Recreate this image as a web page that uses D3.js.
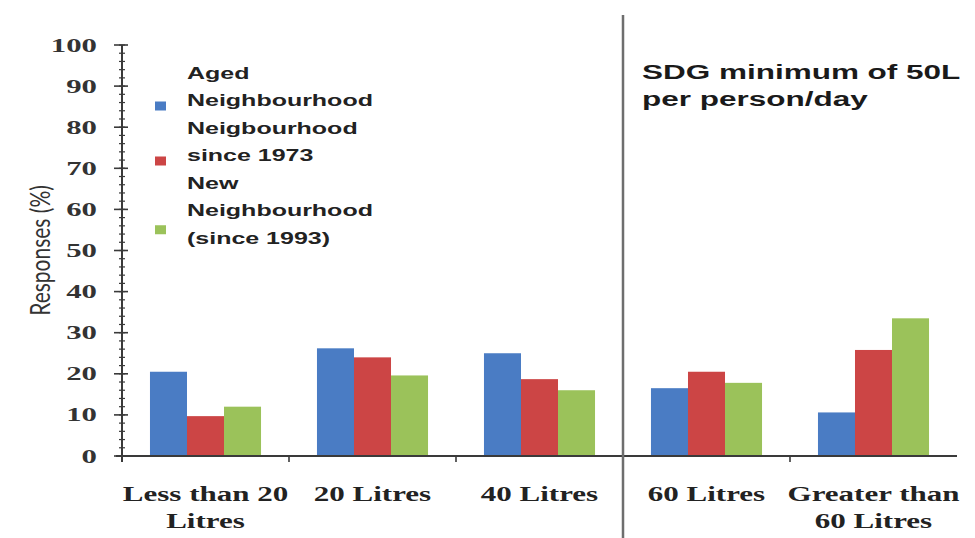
<!DOCTYPE html>
<html>
<head>
<meta charset="utf-8">
<script src="https://cdn.jsdelivr.net/npm/d3@7"></script>
<style>
  body { margin: 0; background: #fff; }
  svg { display: block; }
</style>
</head>
<body>
<div id="chart"></div>
<script>
// data
var categories = ['Less than 20 Litres', '20 Litres', '40 Litres', '60 Litres', 'Greater than 60 Litres'];
var category_lines = [['Less than 20', 'Litres'], ['20 Litres'], ['40 Litres'], ['60 Litres'], ['Greater than', '60 Litres']];
var series_names = ['Aged Neighbourhood', 'Neigbourhood since 1973', 'New Neighbourhood (since 1993)'];
var legend_lines = [['Aged', 'Neighbourhood'], ['Neigbourhood', 'since 1973'], ['New', 'Neighbourhood', '(since 1993)']];
var aged_values = [20.5, 26.2, 25, 16.5, 10.6];
var since1973_values = [9.7, 24, 18.7, 20.5, 25.8];
var new_values = [12, 19.6, 16, 17.8, 33.5];
var y_ticks = [0, 10, 20, 30, 40, 50, 60, 70, 80, 90, 100];
var note_lines = ['SDG minimum of 50L', 'per person/day'];

var series_values = [aged_values, since1973_values, new_values];
var colors = ['#4a7cc4', '#cc4545', '#9bc25a'];

var width = 975, height = 538;
var margin = {left: 122, right: 18, top: 45, bottom: 82};

var svg = d3.select('#chart')
  .append('svg')
  .attr('width', width)
  .attr('height', height);

var x0 = d3.scaleBand()
  .domain(categories)
  .range([margin.left, width - margin.right])
  .paddingInner(0.335)
  .paddingOuter(0.1675);

var x1 = d3.scaleBand()
  .domain(d3.range(series_names.length))
  .range([0, x0.bandwidth()]);

var y = d3.scaleLinear()
  .domain([0, 100])
  .range([height - margin.bottom, margin.top]);

// bars
var groups = svg.append('g')
  .selectAll('g')
  .data(categories)
  .join('g')
  .attr('transform', function(d) { return 'translate(' + x0(d) + ',0)'; });

groups.selectAll('rect')
  .data(function(d, i) {
    return series_values.map(function(s, k) { return {k: k, v: s[i]}; });
  })
  .join('rect')
  .attr('x', function(d) { return x1(d.k); })
  .attr('width', x1.bandwidth())
  .attr('y', function(d) { return y(d.v); })
  .attr('height', function(d) { return y(0) - y(d.v); })
  .attr('fill', function(d) { return colors[d.k]; });

// y axis with minor ticks
var axis_color = '#3a3a3a';
var y_axis = svg.append('g')
  .attr('transform', 'translate(' + margin.left + ',0)');

y_axis.append('line')
  .attr('y1', y(100))
  .attr('y2', y(0) + 6)
  .attr('stroke', axis_color)
  .attr('stroke-width', 2);

y_axis.selectAll('.minor')
  .data(d3.range(0, 101, 2))
  .join('line')
  .attr('class', 'minor')
  .attr('x1', -3)
  .attr('x2', 3)
  .attr('y1', function(d) { return y(d); })
  .attr('y2', function(d) { return y(d); })
  .attr('stroke', axis_color)
  .attr('stroke-width', 1.2);

y_axis.selectAll('.major')
  .data(y_ticks)
  .join('line')
  .attr('class', 'major')
  .attr('x1', -8)
  .attr('x2', 6)
  .attr('y1', function(d) { return y(d); })
  .attr('y2', function(d) { return y(d); })
  .attr('stroke', axis_color)
  .attr('stroke-width', 1.6);

y_axis.selectAll('.tick_label')
  .data(y_ticks)
  .join('text')
  .attr('class', 'tick_label')
  .attr('transform', function(d) {
    return 'translate(-25,' + (y(d) + 6.5) + ') scale(1.62,1)';
  })
  .attr('text-anchor', 'end')
  .style('font-family', '"Liberation Serif", "DejaVu Serif", serif')
  .style('font-weight', 'bold')
  .style('font-size', '19px')
  .style('fill', '#333')
  .text(function(d) { return d; });

// x axis
var x_axis = svg.append('g');
x_axis.append('line')
  .attr('x1', margin.left - 6)
  .attr('x2', width - margin.right)
  .attr('y1', y(0))
  .attr('y2', y(0))
  .attr('stroke', axis_color)
  .attr('stroke-width', 2);

x_axis.selectAll('.cat_tick')
  .data([1, 2, 4])
  .join('line')
  .attr('class', 'cat_tick')
  .attr('x1', function(i) { return x0(categories[i]) - x0.step() * x0.paddingInner() / 2; })
  .attr('x2', function(i) { return x0(categories[i]) - x0.step() * x0.paddingInner() / 2; })
  .attr('y1', y(0))
  .attr('y2', y(0) + 6)
  .attr('stroke', axis_color)
  .attr('stroke-width', 1.6);

x_axis.selectAll('.cat_label')
  .data(categories)
  .join('text')
  .attr('class', 'cat_label')
  .attr('transform', function(d) {
    return 'translate(' + (x0(d) + x0.bandwidth() / 2) + ',' + (y(0) + 45) + ') scale(1.55,1)';
  })
  .attr('text-anchor', 'middle')
  .style('font-family', '"Liberation Serif", "DejaVu Serif", serif')
  .style('font-weight', 'bold')
  .style('font-size', '20px')
  .style('fill', '#222')
  .selectAll('tspan')
  .data(function(d, i) { return category_lines[i]; })
  .join('tspan')
  .attr('x', 0)
  .attr('dy', function(d, i) { return i === 0 ? 0 : 27; })
  .text(function(d) { return d; });

// y axis title
svg.append('text')
  .attr('transform', 'translate(50,' + y(50) + ') scale(1.3,1) rotate(-90)')
  .attr('text-anchor', 'middle')
  .style('font-family', 'Lato, "Open Sans", sans-serif')
  .style('font-size', '21px')
  .style('fill', '#333')
  .text('Responses (%)');

// separator between below and above the SDG minimum
var sep_x = x0(categories[3]) - x0.step() * x0.paddingInner() / 2;
svg.append('line')
  .attr('x1', sep_x)
  .attr('x2', sep_x)
  .attr('y1', 15)
  .attr('y2', height)
  .attr('stroke', '#6e6e6e')
  .attr('stroke-width', 2.5);

svg.append('text')
  .attr('transform', 'translate(642,79) scale(1.5,1)')
  .style('font-family', '"Liberation Sans", Arial, sans-serif')
  .style('font-weight', 'bold')
  .style('font-size', '21px')
  .style('fill', '#1a1a1a')
  .selectAll('tspan')
  .data(note_lines)
  .join('tspan')
  .attr('x', 0)
  .attr('dy', function(d, i) { return i === 0 ? 0 : 27; })
  .text(function(d) { return d; });

// legend
var legend_tops = [79, 134, 189];
var legend = svg.append('g')
  .selectAll('g')
  .data(series_names)
  .join('g')
  .attr('transform', function(d, i) { return 'translate(155,' + legend_tops[i] + ')'; });

legend.append('rect')
  .attr('x', 0)
  .attr('width', 11)
  .attr('height', 9)
  .attr('y', function(d, i) { return legend_lines[i].length * 27.5 / 2 - 5; })
  .attr('fill', function(d, i) { return colors[i]; });

legend.append('text')
  .attr('transform', 'translate(32,0) scale(1.47,1)')
  .style('font-family', '"Liberation Sans", Arial, sans-serif')
  .style('font-weight', 'bold')
  .style('font-size', '17px')
  .style('fill', '#222')
  .selectAll('tspan')
  .data(function(d, i) { return legend_lines[i]; })
  .join('tspan')
  .attr('x', 0)
  .attr('y', function(d, i) { return 0 + i * 27.5; })
  .text(function(d) { return d; });
</script>
</body>
</html>
